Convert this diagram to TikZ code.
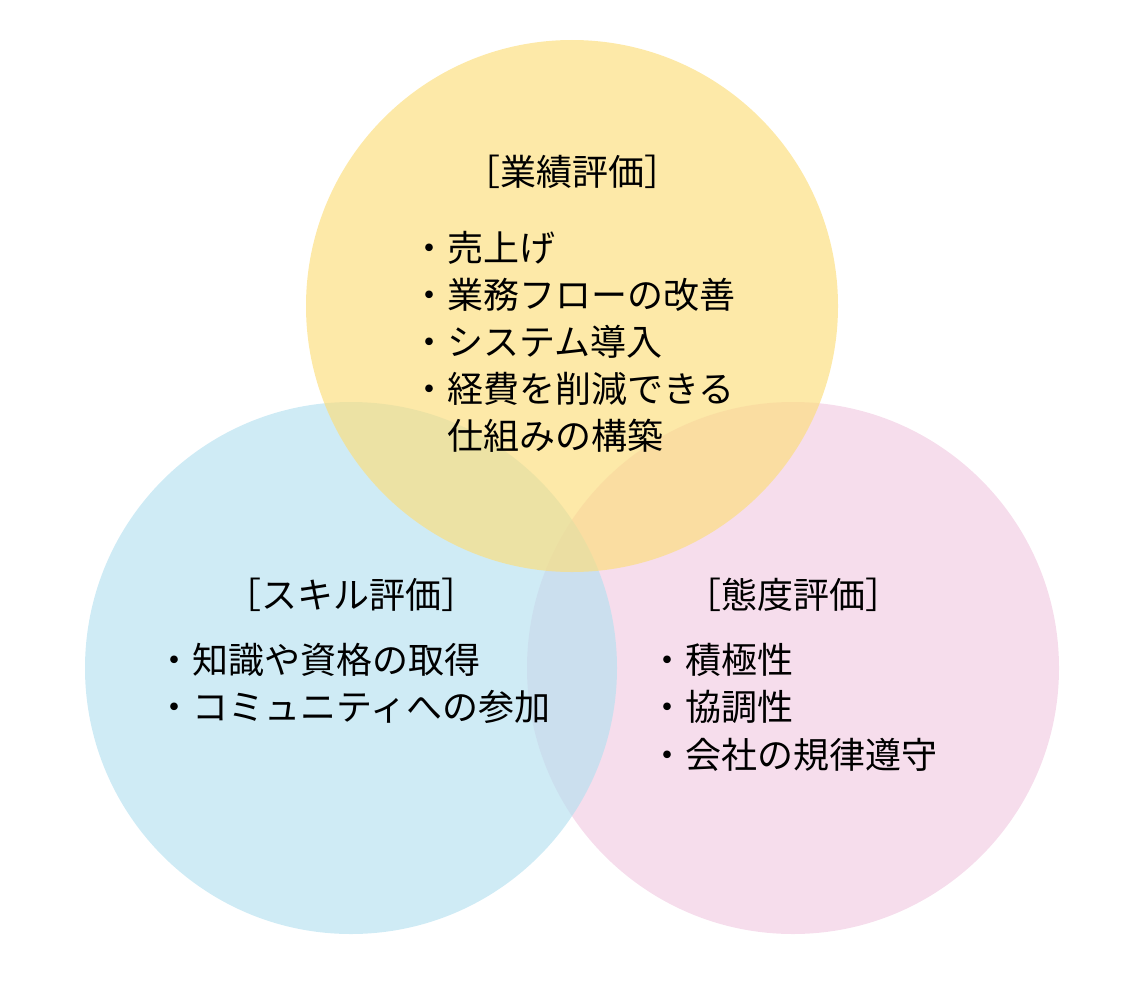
\documentclass[tikz,border=0pt]{standalone}
\usepackage{fontspec}
\newfontfamily\jp{Noto Sans CJK JP}
\definecolor{cyellow}{RGB}{252,222,125}
\definecolor{cblue}{RGB}{182,225,240}
\definecolor{cpink}{RGB}{246,221,236}
\begin{document}
\begin{tikzpicture}[x=1pt,y=-1pt,
  txt/.style={inner sep=0pt,font=\jp\fontsize{36}{42}\selectfont,text=black},
  ttl/.style={txt,anchor=center},
  item/.style={txt,anchor=west}]
\useasboundingbox (0,0) rectangle (1140,998);
\fill[cpink] (793,668) circle[radius=266];
\fill[cblue,fill opacity=0.66] (351,668) circle[radius=266];
\fill[cyellow,fill opacity=0.67] (572,306) circle[radius=266];
% top
\node[ttl] (tg) at (572,172) {［業績評価］};
\node[item] (g1) at (411,248) {・売上げ};
\node[item] (g2) at (411,295) {・業務フローの改善};
\node[item] (g3) at (411,342) {・システム導入};
\node[item] (g4) at (411,389) {・経費を削減できる};
\node[item] (g5) at (447,436) {仕組みの構築};
% skill
\node[ttl] (ts) at (351,595) {［スキル評価］};
\node[item] (s1) at (156,660) {・知識や資格の取得};
\node[item] (s2) at (156,707) {・コミュニティへの参加};
% attitude
\node[ttl] (ta) at (793,595) {［態度評価］};
\node[item] (a1) at (649,660) {・積極性};
\node[item] (a2) at (649,707) {・協調性};
\node[item] (a3) at (649,755) {・会社の規律遵守};
\end{tikzpicture}
\end{document}
